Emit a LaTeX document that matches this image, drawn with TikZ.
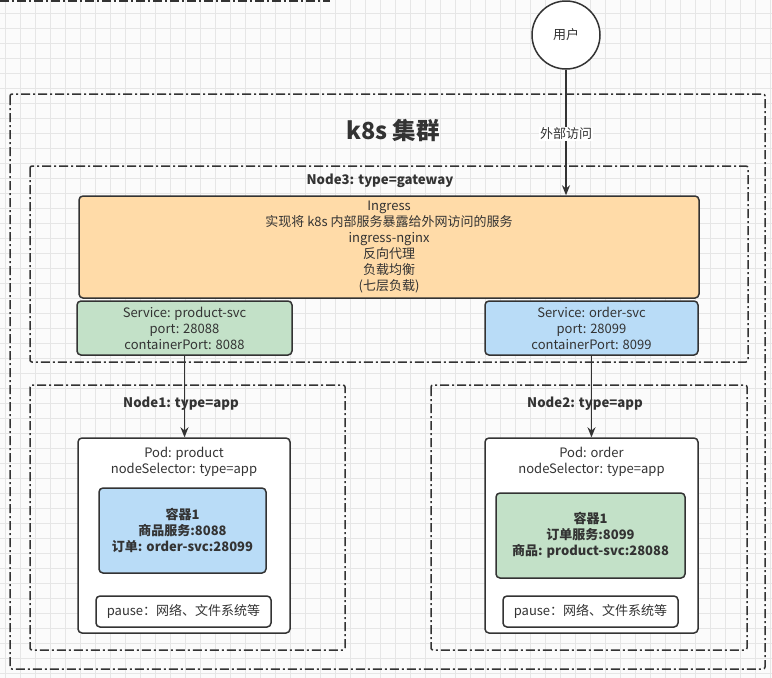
\documentclass[tikz,border=0pt]{standalone}
\usepackage{fontspec}
\setmainfont{Noto Sans CJK SC}
\usetikzlibrary{arrows.meta,calc}
\definecolor{ink}{HTML}{333333}
\definecolor{gridc}{HTML}{E6E6E6}
\definecolor{bg}{HTML}{FBFBFB}
\definecolor{orangef}{HTML}{FFDBA8}
\definecolor{greenf}{HTML}{C3E1C8}
\definecolor{bluef}{HTML}{B9DCF7}
\tikzset{
  zone/.style={draw=ink, line width=1.5pt, dash pattern=on 9pt off 3pt on 2pt off 3pt, rounded corners=2pt},
  box/.style={draw=ink, line width=1.5pt, rounded corners=4pt, inner sep=0pt, text=ink, align=center, font=\fontsize{13}{16}\selectfont},
  txt/.style={text=ink, font=\fontsize{13}{16}\selectfont, align=center, inner sep=1pt},
  ttl/.style={text=ink, font=\fontsize{13.2}{16}\selectfont\bfseries, align=center, inner sep=1pt},
  boldtxt/.style={font=\fontsize{13}{16}\selectfont\bfseries},
  arr/.style={draw=ink, line width=1.5pt, -{Stealth[length=10pt,width=8pt]}},
}
\begin{document}
\begin{tikzpicture}[x=1pt,y=-1pt]
\useasboundingbox (0,0) rectangle (772,678);
\fill[bg] (0,0) rectangle (772,678);
% grid
\foreach \gx in {5,20,...,770} \draw[gridc, line width=0.6pt] (\gx,0) -- (\gx,678);
\foreach \gy in {13,28,...,678} \draw[gridc, line width=0.6pt] (0,\gy) -- (772,\gy);
% partial border top-left
\coordinate (tl0) at (0,1);
\coordinate (tl1) at (330,1);
\draw[zone] (tl0) -- (tl1);
% zones
\draw[zone] (10,94) rectangle (765,669);
\node[font=\fontsize{23.5}{28}\selectfont\bfseries, text=ink] (title) at (393,130) {k8s 集群};
\draw[zone] (30,166) rectangle (748,362);
\node[ttl] (n3t) at (380,181) {Node3: type=gateway};
\draw[zone] (30,385) rectangle (345,650);
\node[ttl] (n1t) at (181,404) {Node1: type=app};
\draw[zone] (431,385) rectangle (747,650);
\node[ttl] (n2t) at (585,404) {Node2: type=app};
% user
\node[draw=ink, line width=1.5pt, fill=white, circle, minimum size=68pt, inner sep=0pt, txt] (user) at (566,35) {用户};
% ingress
\node[box, fill=orangef, minimum width=620pt, minimum height=102pt] (ing) at (389,247)
  {Ingress\\实现将 k8s 内部服务暴露给外网访问的服务\\ingress-nginx\\反向代理\\负载均衡\\(七层负载)};
% services
\node[box, fill=greenf, minimum width=215pt, minimum height=54pt] (svcp) at (184.5,328)
  {Service: product-svc\\port: 28088\\containerPort: 8088};
\node[box, fill=bluef, minimum width=213pt, minimum height=54pt] (svco) at (591.5,328)
  {Service: order-svc\\port: 28099\\containerPort: 8099};
% pods
\node[box, fill=white, minimum width=212pt, minimum height=195pt] (podp) at (184,535.5) {};
\node[txt] (podpt) at (184,462) {Pod: product\\nodeSelector: type=app};
\node[box, fill=bluef, minimum width=167pt, minimum height=85pt, boldtxt] (c1) at (182.5,530.5)
  {容器1\\商品服务:8088\\订单: order-svc:28099};
\node[box, fill=white, minimum width=175pt, minimum height=31pt] (pz1) at (183.5,611.5) {pause：网络、文件系统等};
\node[box, fill=white, minimum width=213pt, minimum height=195pt] (podo) at (591.5,535.5) {};
\node[txt] (podot) at (591.5,462) {Pod: order\\nodeSelector: type=app};
\node[box, fill=greenf, minimum width=189pt, minimum height=85pt, boldtxt] (c2) at (590.5,535.5)
  {容器1\\订单服务:8099\\商品: product-svc:28088};
\node[box, fill=white, minimum width=175pt, minimum height=31pt] (pz2) at (590.5,611.5) {pause：网络、文件系统等};
% connectors
\draw[arr] (user.south) -- node[txt, fill=white, pos=0.51] (lbl) {外部访问} (user.south |- ing.north);
\draw[arr] (svcp.south) -- (svcp.south |- podp.north);
\draw[arr] (svco.south) -- (svco.south |- podo.north);
\end{tikzpicture}
\end{document}
